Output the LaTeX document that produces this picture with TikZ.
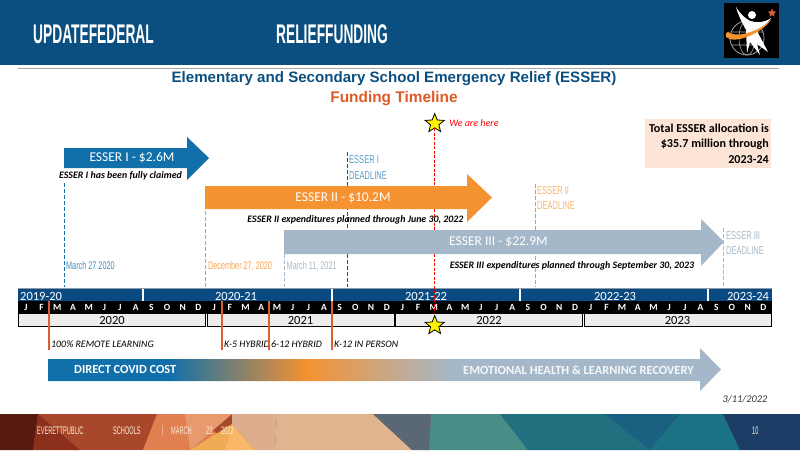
\documentclass[tikz,border=0pt]{standalone}
\usepackage{fontspec}
\setmainfont{Carlito}
\newfontfamily\headfont[FakeStretch=0.51]{Liberation Sans}
\newfontfamily\thinfont[FakeStretch=0.66]{Liberation Sans}
\newfontfamily\arialfont{Liberation Sans}
\usetikzlibrary{arrows.meta, positioning, shapes.geometric}
\definecolor{headblue}{HTML}{0B4F80}
\definecolor{esserblue}{HTML}{1170AA}
\definecolor{esserorange}{HTML}{F59232}
\definecolor{essergray}{HTML}{A5B8C9}
\definecolor{barblue}{HTML}{0B4A80}
\definecolor{covidred}{HTML}{D9602F}
\definecolor{titlered}{HTML}{DE5A26}
\definecolor{notepeach}{HTML}{FCE4D6}
\definecolor{footbase}{HTML}{A8482A}
\pgfdeclarehorizontalshading{covidshade}{100bp}{
  color(0bp)=(esserblue); color(34bp)=(esserblue); color(44.25bp)=(esserorange);
  color(55bp)=(essergray); color(100bp)=(essergray)}
\tikzset{
  % Testi
  head text/.style={text=white,inner sep=0,anchor=west,font=\headfont\bfseries\fontsize{27}{27}\selectfont},
  foot text/.style={text=white!85!orange,inner sep=0,anchor=west,font=\headfont\fontsize{11}{11}\selectfont},
  arrow text/.style={text=white,inner sep=0,font=\fontsize{13.5}{15}\selectfont},
  plan text/.style={inner sep=0,font=\bfseries\itshape\fontsize{9.9}{11}\selectfont},
  deadline text/.style={inner sep=0,anchor=west,align=left,font=\thinfont\fontsize{11.4}{15.2}\selectfont},
  date text/.style={inner sep=0,anchor=west,font=\thinfont\fontsize{11}{11}\selectfont},
  band text/.style={inner sep=0,anchor=west,font=\bfseries\fontsize{12.4}{14}\selectfont},
  % Barre del calendario
  school year/.style={text=white,inner sep=0,font=\fontsize{12.5}{14}\selectfont},
  month/.style={text=white,inner sep=0,font=\bfseries\fontsize{9.5}{10}\selectfont},
  year cell/.style={draw=black,line width=1pt,fill=black!7,minimum width=187,minimum height=12.5,inner sep=0,font=\fontsize{12.5}{12}\selectfont},
  % Connessioni
  deadline/.style={dashed,line width=1pt,dash pattern=on 4pt off 2pt},
  covid line/.style={covidred,line width=1.7pt},
  covid text/.style={inner sep=0,anchor=west,font=\itshape\fontsize{9.9}{11}\selectfont},
  here star/.style={star,star points=5,star point ratio=2.3,draw=black,thick,fill=yellow,minimum size=20,inner sep=0}
}
\begin{document}
\begin{tikzpicture}[x=1pt,y=-1pt]
\useasboundingbox (0,0) rectangle (800,450);

% Testata
\fill[headblue] (0,0) rectangle (800,65);
\draw[black!35,line width=0.8pt] (18,68) -- (779,68);
\node[head text] (update) at (33,34) {UPDATEFEDERAL};
\node[head text] (relief) at (276,34) {RELIEFFUNDING};

% Logo
\fill[black] (724,3) rectangle (779,58);
\draw[black!35,line width=0.8pt] (747,38) circle (17);
\draw[black!35,line width=0.6pt] (747,38) ellipse (8 and 17) (731,32) -- (763,32) (732,45) -- (762,45);
\fill[white] (736,7) .. controls (741,15) and (745,18) .. (750,21) .. controls (757,23) and (764,23) .. (771,18) .. controls (767,25) and (760,28) .. (757,31) -- (768,52) -- (757,44) -- (760,55) -- (750,42) -- (747,53) -- (746,30) .. controls (742,22) and (738,15) .. (736,7) -- cycle;
\fill[white] (752,15) circle (4);
\fill[esserorange] (726,37) .. controls (725,32) and (728,31) .. (730,33) .. controls (740,38) and (760,30) .. (771,20) .. controls (762,33) and (735,45) .. (726,37) -- cycle;
\node[star,star points=5,star point ratio=2.2,fill=covidred,minimum size=9,inner sep=0] (logo star) at (772,13) {};

% Titolo
\node[inner sep=0,text=headblue,font=\arialfont\bfseries\fontsize{15.1}{16}\selectfont] (title) at (394,78.5) {Elementary and Secondary School Emergency Relief (ESSER)};
\node[inner sep=0,text=titlered,font=\arialfont\bfseries\fontsize{15.4}{16}\selectfont] (subtitle) at (394,98.5) {Funding Timeline};

% Nota
\node[fill=notepeach,minimum width=126,minimum height=49,inner sep=0] (total box) at (708,143.5) {};
\node[inner sep=0,anchor=east,align=right,font=\bfseries\fontsize{12.1}{15.7}\selectfont] (total) at (769,143.5) {Total ESSER allocation is\\\$35.7 million through\\2023-24};

% Barre del calendario
\fill[barblue] (18,288) rectangle (772,301);
\draw[black!15!essergray,line width=0.8pt] (18,288) -- (772,288);
\fill[black] (18,301) rectangle (772,314);
\foreach \x in {143,332,520,708}
  \draw[white,line width=1.6pt] (\x,289) -- (\x,301);
\node[school year,anchor=west] (sy19) at (20,296) {2019-20};
\node[school year] (sy20) at (236,296) {2020-21};
\node[school year] (sy21) at (426,296) {2021-22};
\node[school year] (sy22) at (615,296) {2022-23};
\node[school year] (sy23) at (748,296) {2023-24};
\foreach \m [count=\i from 0] in {J,F,M,A,M,J,J,A,S,O,N,D,J,F,M,A,M,J,J,A,S,O,N,D,J,F,M,A,M,J,J,A,S,O,N,D,J,F,M,A,M,J,J,A,S,O,N,D}
  \node[month] (m\i) at ({25.9+15.69*\i},307.8) {\m};
\node[year cell] (y2020) at (112,320) {2020};
\node[year cell] (y2021) at (300.5,320) {2021};
\node[year cell] (y2022) at (489,320) {2022};
\node[year cell] (y2023) at (677.5,320) {2023};

% Stelle
\node[here star] (star top) at (434.7,123.5) {};
\node[here star] (star low) at (434.7,325.5) {};
\node[inner sep=0,anchor=west,text=red,font=\itshape\fontsize{10}{11}\selectfont,right=8 of star top] (here) {We are here};

% Scadenze
\foreach \x/\y/\n/\c in {64/183/a/esserblue,205/211/b/esserorange,284/254/c/essergray,347/152/d/esserblue!75!black,535/184/e/esserorange,723/228/f/essergray}{
  \coordinate (\n top) at (\x,\y);
  \coordinate (\n bot) at (\x,287);
  \draw[deadline,\c] (\n top) -- (\n bot);
}
\draw[deadline,red,dash pattern=on 3pt off 1.5pt,line width=0.9pt] (star top) -- (star low);

% Frecce dei fondi
\fill[esserblue] (64,148) -- (187,148) -- (187,137) -- (209,158) -- (187,180) -- (187,168) -- (64,168) -- cycle;
\fill[esserorange] (205,186) -- (467,186) -- (467,174) -- (492,197.5) -- (467,222) -- (467,209) -- (205,209) -- cycle;
\fill[essergray] (284,230) -- (701,230) -- (701,219) -- (724,242) -- (701,266) -- (701,254) -- (284,254) -- cycle;
\node[arrow text] (esser one) at (132,158) {ESSER I - \$2.6M};
\node[arrow text] (esser two) at (343,198) {ESSER II - \$10.2M};
\node[arrow text] (esser three) at (498.5,242) {ESSER III - \$22.9M};
\node[plan text] (plan one) at (120.5,176) {ESSER I has been fully claimed};
\node[plan text] (plan two) at (355.5,220) {ESSER II expenditures planned through June 30, 2022};
\node[plan text] (plan three) at (572,265.5) {ESSER III expenditures planned through September 30, 2023};

% Etichette delle scadenze
\node[deadline text,text=esserblue!70] (dead one) at (349,167.5) {ESSER I\\DEADLINE};
\node[deadline text,text=esserorange!70] (dead two) at (537,198) {ESSER II\\DEADLINE};
\node[deadline text,text=essergray] (dead three) at (726,243) {ESSER III\\DEADLINE};
\node[date text,text=esserblue!80] (date one) at (66,266) {March 27 2020};
\node[date text,text=esserorange!85] (date two) at (208,266) {December 27, 2020};
\node[date text,text=essergray] (date three) at (286.5,266) {March 11, 2021};

% Linee COVID
\foreach \x/\n/\t in {49/remote/100\% REMOTE LEARNING,222/hybrid/K-5 HYBRID,269/middle/6-12 HYBRID,332/person/K-12 IN PERSON}
  \node[covid text] (\n) at (\x+2,344.5) {\t};
\foreach \x/\n in {49/g,222/h,269/i,332/j}{
  \coordinate (\n top) at (\x,301);
  \coordinate (\n bot) at (\x,350);
  \draw[covid line] (\n top) -- (\n bot);
}

% Freccia in basso
\shade[shading=covidshade] (48,359) -- (700,359) -- (700,348) -- (721,369.5) -- (700,391) -- (700,381) -- (48,381) -- cycle;
\node[band text,text=white] (direct) at (74,369) {DIRECT COVID COST};
\node[band text,text=white!90!essergray] (recovery) at (463,370.5) {EMOTIONAL HEALTH \& LEARNING RECOVERY};
\node[inner sep=0,font=\itshape\fontsize{10.3}{11}\selectfont,text=black!80] (stamp) at (745,399.5) {3/11/2022};

% Piede
\fill[footbase] (0,414) rectangle (800,450);
\foreach \c/\p in {
  55190F/{(0,414) -- (38,414) -- (33,450) -- (0,450)},
  8C2F1C/{(38,414) -- (80,450) -- (33,450)},
  E07F50/{(157,414) -- (190,414) -- (240,450) -- (143,450)},
  E89A6F/{(185,414) -- (232,414) -- (190,450)},
  F0AC55/{(190,450) -- (232,424) -- (225,450)},
  F8B868/{(225,450) -- (232,424) -- (255,450)},
  DDAE8E/{(232,414) -- (277,414) -- (275,450) -- (255,450) -- (232,424)},
  E0B48F/{(277,414) -- (373,414) -- (412,450) -- (275,450)},
  5A6876/{(373,414) -- (431,414) -- (429,450) -- (412,450)},
  4A8C88/{(431,414) -- (505,414) -- (528,450) -- (429,450)},
  217080/{(500,414) -- (607,414) -- (650,450) -- (528,450)},
  1A6080/{(605,414) -- (680,414) -- (650,450)},
  1A7285/{(680,414) -- (723,414) -- (740,450) -- (650,450)},
  1C3E66/{(723,414) -- (800,414) -- (800,450) -- (740,450)}
}{
  \definecolor{footfill}{HTML}{\c}
  \fill[footfill] \p -- cycle;
}
\node[foot text] (foot a) at (37,431) {EVERETTPUBLIC};
\node[foot text] (foot b) at (113,431) {SCHOOLS};
\node[foot text] (foot c) at (162,431) {|};
\node[foot text] (foot d) at (171,431) {MARCH};
\node[foot text] (foot e) at (206,431) {22,};
\node[foot text] (foot f) at (221,431) {2022};
\node[foot text] (foot g) at (752,431) {10};

\end{tikzpicture}
\end{document}
